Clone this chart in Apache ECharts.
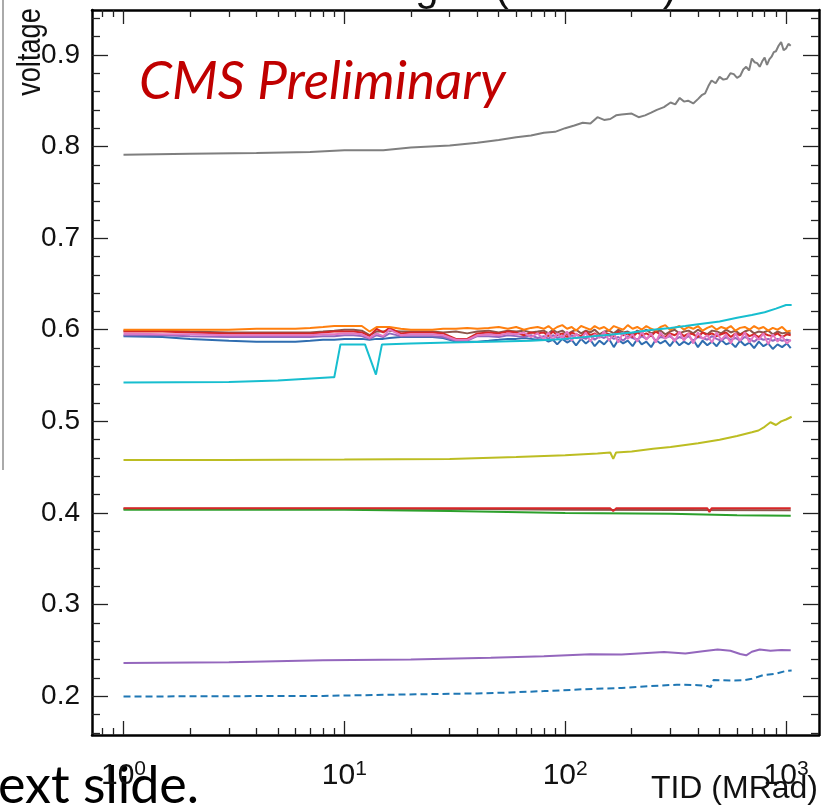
<!DOCTYPE html>
<html>
<head>
<meta charset="utf-8">
<script src="https://cdn.jsdelivr.net/npm/echarts@6/dist/echarts.min.js"></script>
<style>
  html, body { margin: 0; padding: 0; background: #fff; }
  #main { width: 822px; height: 809px; }
</style>
</head>
<body>
<div id="main"></div>
<script>
// TID dose (MRad) grid used by the 0.6 V bundle
var bundleDose = [1, 1.5, 2, 3, 4, 5, 6, 7, 8, 9, 10, 11, 12, 13, 14, 15, 16, 18, 20, 22, 25, 28, 32, 36, 40, 45, 50, 55, 60, 65, 70, 75,
  80, 84, 88, 92, 97, 102, 107, 112, 118, 124, 130, 136, 143, 150, 158, 166, 174, 183, 192, 202, 212, 222, 233, 245, 257,
  270, 284, 298, 313, 329, 345, 362, 380, 399, 419, 440, 462, 485, 509, 535, 562, 590, 619, 650, 683, 717, 753, 790, 830, 871, 915, 960, 1008, 1050];
var orangeV = [0.600,0.600,0.600,0.600,0.601,0.601,0.601,0.602,0.603,0.604,0.604,0.604,0.604,0.598,0.603,0.603,0.603,0.601,0.600,0.600,0.600,0.601,0.601,0.602,0.601,0.602,0.603,0.601,0.603,0.600,0.602,0.603,
  0.601,0.604,0.600,0.603,0.605,0.601,0.603,0.599,0.604,0.602,0.600,0.604,0.601,0.603,0.599,0.604,0.602,0.600,0.605,0.601,
  0.603,0.600,0.604,0.601,0.599,0.603,0.605,0.600,0.602,0.604,0.600,0.603,0.601,0.604,0.599,0.602,0.604,0.600,0.603,0.601,
  0.604,0.599,0.602,0.603,0.600,0.604,0.601,0.603,0.599,0.602,0.600,0.603,0.598,0.599];
var brownV = [0.599,0.599,0.598,0.597,0.597,0.597,0.597,0.597,0.598,0.599,0.600,0.600,0.599,0.594,0.598,0.598,0.599,0.598,0.598,0.598,0.598,0.597,0.598,0.596,0.598,0.599,0.597,0.599,0.598,0.599,0.597,0.598,
  0.599,0.596,0.600,0.597,0.599,0.595,0.598,0.600,0.596,0.599,0.597,0.600,0.595,0.598,0.599,0.596,0.600,0.597,0.598,0.595,
  0.599,0.597,0.600,0.596,0.598,0.599,0.595,0.598,0.600,0.596,0.598,0.599,0.596,0.600,0.597,0.595,0.599,0.598,0.596,0.600,
  0.597,0.599,0.595,0.598,0.600,0.596,0.598,0.597,0.599,0.595,0.598,0.596,0.597,0.596];
var redV = [0.598,0.598,0.597,0.596,0.596,0.596,0.596,0.596,0.597,0.598,0.598,0.598,0.597,0.593,0.601,0.597,0.602,0.596,0.597,0.597,0.597,0.596,0.590,0.590,0.596,0.597,0.596,0.598,0.597,0.594,0.597,0.596,
  0.597,0.593,0.598,0.594,0.596,0.592,0.597,0.595,0.593,0.598,0.594,0.596,0.592,0.597,0.595,0.593,0.598,0.594,0.596,0.592,
  0.597,0.594,0.596,0.593,0.598,0.595,0.592,0.596,0.594,0.597,0.593,0.596,0.595,0.592,0.597,0.594,0.596,0.593,0.595,0.597,
  0.592,0.596,0.594,0.597,0.593,0.595,0.592,0.596,0.594,0.593,0.596,0.592,0.595,0.594];
var pinkV = [0.596,0.595,0.595,0.594,0.594,0.594,0.594,0.594,0.595,0.595,0.596,0.596,0.595,0.591,0.596,0.593,0.600,0.594,0.595,0.595,0.595,0.594,0.589,0.589,0.594,0.595,0.594,0.596,0.595,0.597,0.592,0.596,
  0.590,0.597,0.589,0.596,0.591,0.598,0.588,0.596,0.590,0.597,0.587,0.595,0.591,0.598,0.588,0.596,0.586,0.597,0.590,0.595,
  0.587,0.598,0.589,0.596,0.586,0.597,0.590,0.595,0.587,0.598,0.588,0.596,0.585,0.597,0.590,0.594,0.586,0.597,0.589,0.595,
  0.585,0.596,0.588,0.597,0.586,0.594,0.589,0.596,0.584,0.595,0.587,0.593,0.585,0.589];
var purpleV = [0.594,0.594,0.593,0.592,0.592,0.592,0.592,0.592,0.593,0.593,0.594,0.594,0.593,0.590,0.594,0.592,0.596,0.593,0.593,0.593,0.593,0.592,0.588,0.588,0.593,0.593,0.592,0.594,0.593,0.592,0.594,0.591,
  0.593,0.590,0.594,0.591,0.593,0.589,0.594,0.591,0.592,0.590,0.594,0.589,0.593,0.591,0.594,0.590,0.592,0.588,0.593,0.591,
  0.589,0.593,0.590,0.594,0.588,0.592,0.591,0.593,0.589,0.592,0.590,0.593,0.588,0.592,0.591,0.589,0.593,0.590,0.588,0.592,
  0.589,0.591,0.588,0.592,0.590,0.587,0.591,0.589,0.590,0.588,0.590,0.588,0.589,0.588];
var blueV = [0.593,0.592,0.590,0.588,0.587,0.587,0.587,0.588,0.589,0.589,0.590,0.590,0.590,0.589,0.590,0.590,0.591,0.592,0.592,0.592,0.592,0.591,0.587,0.587,0.587,0.588,0.589,0.590,0.590,0.591,0.590,0.589,
  0.590,0.587,0.589,0.584,0.590,0.586,0.589,0.583,0.590,0.585,0.589,0.582,0.588,0.584,0.590,0.581,0.589,0.585,0.588,0.582,
  0.590,0.584,0.587,0.581,0.589,0.585,0.588,0.582,0.589,0.583,0.587,0.584,0.589,0.581,0.588,0.583,0.587,0.582,0.589,0.584,
  0.586,0.581,0.588,0.583,0.586,0.580,0.587,0.582,0.585,0.579,0.584,0.581,0.585,0.580];

var cyanDose = [1, 3, 5, 8.8, 9.0, 9.6, 12.4, 13.9, 14.8, 20, 30, 45, 70, 100, 150, 200, 250, 300, 350, 400, 500, 600, 700, 800, 900, 1000, 1060];
var cyanV = [0.5425, 0.5430, 0.5445, 0.548, 0.548, 0.584, 0.584, 0.551, 0.584, 0.585, 0.586, 0.587, 0.588, 0.590, 0.594, 0.597, 0.600, 0.602, 0.604, 0.606, 0.609, 0.613, 0.616, 0.619, 0.623, 0.627, 0.627];

var grayDose = [1, 2, 4, 7, 10, 15, 20, 30, 40, 50, 60, 70, 80, 90, 100, 110, 120, 130, 140, 150, 160, 170, 180, 200, 215, 230, 245, 260, 280, 300, 315, 330, 345, 360, 380, 400, 415,
  430, 445, 460, 480, 500, 520, 540, 560, 580, 600, 620, 640, 660, 680, 700, 720, 740, 760, 780, 800, 820, 840, 860, 880, 900, 925, 950, 975, 1000, 1025, 1050];
var grayV = [0.791, 0.792, 0.793, 0.794, 0.796, 0.796, 0.799, 0.801, 0.804, 0.807, 0.810, 0.812, 0.815, 0.816, 0.820, 0.823, 0.826, 0.825, 0.832, 0.829, 0.830, 0.834, 0.835, 0.836, 0.832, 0.834, 0.837, 0.840,
  0.843, 0.848, 0.846, 0.853, 0.849, 0.850, 0.847, 0.852, 0.856, 0.858, 0.866, 0.872, 0.869, 0.876, 0.873, 0.874, 0.880, 0.879, 0.875, 0.877, 0.884, 0.887, 0.883,
  0.896, 0.892, 0.891, 0.887, 0.893, 0.897, 0.889, 0.895, 0.898, 0.903, 0.904, 0.910, 0.914, 0.905, 0.907, 0.912, 0.910];

var oliveDose = [1, 3, 10, 30, 60, 100, 140, 160, 165, 170, 200, 250, 300, 400, 500, 600, 700, 750, 800, 850, 900, 950, 1000, 1060];
var oliveV = [0.4577, 0.4578, 0.4583, 0.459, 0.461, 0.463, 0.465, 0.466, 0.459, 0.466, 0.467, 0.470, 0.472, 0.476, 0.480, 0.484, 0.488, 0.490, 0.494, 0.499, 0.496, 0.500, 0.502, 0.505];

var redLowDose = [1, 10, 50, 150, 160, 165, 170, 300, 440, 450, 460, 700, 1050];
var redLowV = [0.405, 0.405, 0.405, 0.405, 0.405, 0.402, 0.405, 0.405, 0.405, 0.401, 0.405, 0.405, 0.405];
var greenDose = [1, 10, 30, 100, 300, 600, 1050];
var greenV = [0.4035, 0.4035, 0.402, 0.400, 0.399, 0.3975, 0.397];
var brownLowDose = [1, 10, 40, 100, 1050];
var brownLowV = [0.4045, 0.4045, 0.4042, 0.4035, 0.4030];

var violetDose = [1, 3, 8, 20, 46, 80, 130, 180, 280, 350, 420, 490, 560, 620, 660, 700, 760, 850, 950, 1050];
var violetV = [0.2363, 0.237, 0.2391, 0.240, 0.242, 0.2435, 0.2457, 0.2455, 0.2482, 0.2465, 0.249, 0.251, 0.2495, 0.246, 0.2446, 0.2485, 0.251, 0.2495, 0.2505, 0.250];

var dashDose = [1, 8, 21, 40, 56, 80, 123, 180, 245, 320, 400, 440, 456, 470, 560, 645, 700, 790, 900, 1000, 1060];
var dashV = [0.1996, 0.2003, 0.202, 0.203, 0.204, 0.2055, 0.2076, 0.209, 0.211, 0.2125, 0.212, 0.211, 0.210, 0.2177, 0.2170, 0.2174, 0.219, 0.223, 0.2245, 0.2276, 0.228];

var xMajor = [1, 10, 100, 1000];
var xMinor = [0.8, 0.9, 2, 3, 4, 5, 6, 7, 8, 9, 20, 30, 40, 50, 60, 70, 80, 90, 200, 300, 400, 500, 600, 700, 800, 900];
var yMajor = [0.2, 0.3, 0.4, 0.5, 0.6, 0.7, 0.8, 0.9];
var yMinor = [0.16, 0.18, 0.22, 0.24, 0.26, 0.28, 0.32, 0.34, 0.36, 0.38, 0.42, 0.44, 0.46, 0.48, 0.52, 0.54, 0.56, 0.58,
  0.62, 0.64, 0.66, 0.68, 0.72, 0.74, 0.76, 0.78, 0.82, 0.84, 0.86, 0.88, 0.92, 0.94];

var xMin = 0.72, xMax = 1410, yMin = 0.1576, yMax = 0.949;
var sans = '"Liberation Sans"';

function pairs(xs, ys) {
  return xs.map(function (x, i) { return [x, ys[i]]; });
}
function line(name, xs, ys, color, dashed) {
  return {
    name: name, type: 'line', xAxisIndex: 0, yAxisIndex: 0,
    data: pairs(xs, ys), showSymbol: false, symbol: 'none', silent: true,
    lineStyle: { color: color, width: 2, type: dashed ? [7, 4] : 'solid' }
  };
}
function xAxisDef(pos, ticks, len, withLine, withLabel) {
  return {
    type: 'log', logBase: 10, position: pos, min: xMin, max: xMax,
    axisLine: { show: withLine, lineStyle: { color: '#000', width: 2.5 } },
    axisTick: { show: true, inside: true, length: len, customValues: ticks, lineStyle: { color: '#222', width: 1.3 } },
    axisLabel: withLabel ? {
      show: true, customValues: xMajor, margin: 24,
      formatter: function (v) { return '{b|10}{s|' + Math.round(Math.log10(v)) + '}'; },
      rich: {
        b: { fontFamily: sans, fontSize: 30, color: '#111' },
        s: { fontFamily: sans, fontSize: 21, color: '#111', verticalAlign: 'top', padding: [0, 0, 12, 0] }
      }
    } : { show: false },
    splitLine: { show: false }
  };
}
function yAxisDef(pos, ticks, len, withLine, withLabel) {
  return {
    type: 'value', position: pos, min: yMin, max: yMax,
    axisLine: { show: withLine, lineStyle: { color: '#000', width: 2.5 } },
    axisTick: { show: true, inside: true, length: len, customValues: ticks, lineStyle: { color: '#222', width: 1.3 } },
    axisLabel: withLabel ? {
      show: true, customValues: yMajor, margin: 12,
      fontFamily: sans, fontSize: 28, color: '#111',
      formatter: function (v) { return v.toFixed(1); }
    } : { show: false },
    splitLine: { show: false }
  };
}

var myChart = echarts.init(document.getElementById('main'));
var option = {
  backgroundColor: '#fff',
  animation: false,
  grid: { left: 92, top: 10, width: 727, height: 725, outerBoundsMode: 'none' },
  xAxis: [
    xAxisDef('bottom', xMajor, 14, true, true),
    xAxisDef('bottom', xMinor, 7, false, false),
    xAxisDef('top', xMajor, 14, true, false),
    xAxisDef('top', xMinor, 7, false, false)
  ],
  yAxis: [
    yAxisDef('left', yMajor, 16, true, true),
    yAxisDef('left', yMinor, 8, false, false),
    yAxisDef('right', yMajor, 16, true, false),
    yAxisDef('right', yMinor, 8, false, false)
  ],
  graphic: [
    { type: 'line', shape: { x1: 3, y1: 0, x2: 3, y2: 470 }, style: { stroke: '#aaa', lineWidth: 2 } },
    { type: 'text', x: 448, y: -12, style: { text: 'Main Voltages (External)', font: '42px "Liberation Sans"', fill: '#111', align: 'center', verticalAlign: 'middle' } },
    { type: 'text', x: 31, y: 52, rotation: Math.PI / 2, scaleX: 0.8, style: { text: 'voltage', font: '34px "Liberation Sans"', fill: '#111', align: 'center', verticalAlign: 'middle' } },
    { type: 'text', x: 139, y: 82, style: { text: 'CMS Preliminary', font: 'italic 53px Lato', fill: '#c00000', align: 'left', verticalAlign: 'middle' } },
    { type: 'text', x: 818, y: 789, style: { text: 'TID (MRad)', font: '32px ' + sans, fill: '#111', align: 'right', verticalAlign: 'middle' } },
    { type: 'text', x: -2, y: 786, style: { text: 'ext slide.', font: '52px Lato', fill: '#000', align: 'left', verticalAlign: 'middle' } }
  ],
  series: [
    line('blue', bundleDose, blueV, '#2f6db0'),
    line('purple', bundleDose, purpleV, '#9467bd'),
    line('brown', bundleDose, brownV, '#8c564b'),
    line('red', bundleDose, redV, '#d62728'),
    line('orange', bundleDose, orangeV, '#ff7f0e'),
    line('pink', bundleDose, pinkV, '#e377c2'),
    line('cyan', cyanDose, cyanV, '#17becf'),
    line('gray', grayDose, grayV, '#7f7f7f'),
    line('olive', oliveDose, oliveV, '#bcbd22'),
    line('brown2', brownLowDose, brownLowV, '#8c564b'),
    line('green', greenDose, greenV, '#2ca02c'),
    line('red2', redLowDose, redLowV, '#d62728'),
    line('violet', violetDose, violetV, '#9467bd'),
    line('dashed', dashDose, dashV, '#1f77b4', true)
  ]
};
myChart.setOption(option);
</script>
</body>
</html>
